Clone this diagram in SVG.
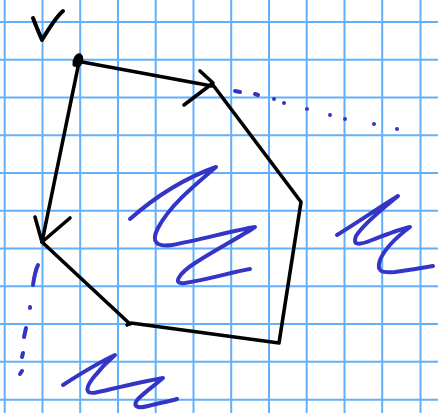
<svg xmlns="http://www.w3.org/2000/svg" width="438" height="413" viewBox="0 0 438 413">
<defs>
<style>
.grid line{stroke:#62b0fb;stroke-width:2}
.ink{fill:none;stroke:#000;stroke-width:3.6;stroke-linecap:round;stroke-linejoin:round}
.blob{fill:#000;stroke:#000;stroke-width:3;stroke-linejoin:round}
.blue{fill:none;stroke:#3434c6;stroke-width:4;stroke-linecap:round;stroke-linejoin:round}
.dot{fill:#3434c6}
</style>
</defs>
<rect width="438" height="413" fill="#fff"/>
<g class="grid">
<line x1="4.7" y1="0" x2="4.7" y2="413"/>
<line x1="42.5" y1="0" x2="42.5" y2="413"/>
<line x1="80.2" y1="0" x2="80.2" y2="413"/>
<line x1="118" y1="0" x2="118" y2="413"/>
<line x1="155.7" y1="0" x2="155.7" y2="413"/>
<line x1="193.5" y1="0" x2="193.5" y2="413"/>
<line x1="231.2" y1="0" x2="231.2" y2="413"/>
<line x1="269" y1="0" x2="269" y2="413"/>
<line x1="306.7" y1="0" x2="306.7" y2="413"/>
<line x1="344.5" y1="0" x2="344.5" y2="413"/>
<line x1="382.2" y1="0" x2="382.2" y2="413"/>
<line x1="420.5" y1="0" x2="420.5" y2="413"/>
<line x1="0" y1="22" x2="438" y2="22"/>
<line x1="0" y1="59.8" x2="438" y2="59.8"/>
<line x1="0" y1="97.5" x2="438" y2="97.5"/>
<line x1="0" y1="135.2" x2="438" y2="135.2"/>
<line x1="0" y1="173" x2="438" y2="173"/>
<line x1="0" y1="210.8" x2="438" y2="210.8"/>
<line x1="0" y1="248.5" x2="438" y2="248.5"/>
<line x1="0" y1="286.3" x2="438" y2="286.3"/>
<line x1="0" y1="324" x2="438" y2="324"/>
<line x1="0" y1="361.8" x2="438" y2="361.8"/>
<line x1="0" y1="399.7" x2="438" y2="399.7"/>
</g>
<g id="checkmark">
<path class="ink" style="stroke-width:4" d="M33,18 C36,26 39,33 42,40 C48,30 55,18 63,11"/>
</g>
<g id="pentagon">
<path class="ink" d="M42,242 L130,324 M127,325 L131,323 L279,343 L301,202 L213,85"/>
<path class="blob" d="M74,65 C73,60 77,54 80,55 C83,57 82,64 78,66 Z"/>
</g>
<g id="connectors">
<path class="ink" d="M82,62 L212,86"/>
<path class="ink" d="M200,71 L213,83 L184,105"/>
<path class="ink" d="M79,62 L42,242"/>
<path class="ink" d="M35,217 L42,242 L70,218"/>
</g>
<g id="dots-right">
<path class="blue" d="M235,91 L240,92 M255,94 L258,95"/>
<circle class="dot" cx="274" cy="99" r="2"/>
<circle class="dot" cx="284" cy="103" r="2"/>
<circle class="dot" cx="307" cy="109" r="2"/>
<circle class="dot" cx="330" cy="115" r="2"/>
<circle class="dot" cx="345" cy="119" r="2"/>
<circle class="dot" cx="374" cy="124" r="2"/>
<circle class="dot" cx="397" cy="129" r="2"/>
</g>
<g id="dots-left">
<path class="blue" d="M38,265 C35,271 34,278 33,285 M30,307 L30,308 M26,328 L24,337 M23,353 L22,357 M22,371 L20,374"/>
</g>
<g id="scribble-center">
<path class="blue" d="M130,219 C155,197 185,178 216,167 C195,185 170,205 158,228 C150,243 158,247 172,245 C200,240 235,230 255,227 C240,237 215,250 195,263 C178,274 172,285 185,283 C210,279 232,272 250,269"/>
</g>
<g id="scribble-right">
<path class="blue" d="M337,235 C358,222 380,207 398,196 C385,207 365,222 356,236 C352,246 360,245 372,240 C388,234 400,229 410,227 C398,236 385,248 380,260 C376,272 382,273 395,272 C410,270 422,268 433,266"/>
</g>
<g id="scribble-bottom">
<path class="blue" d="M63,385 C80,374 98,363 115,355 C108,361 100,369 93,378 C84,390 86,395 98,392 C120,387 145,381 163,378 C155,385 145,392 138,399 C132,406 137,409 148,406 C160,403 170,401 177,399"/>
</g>
</svg>
